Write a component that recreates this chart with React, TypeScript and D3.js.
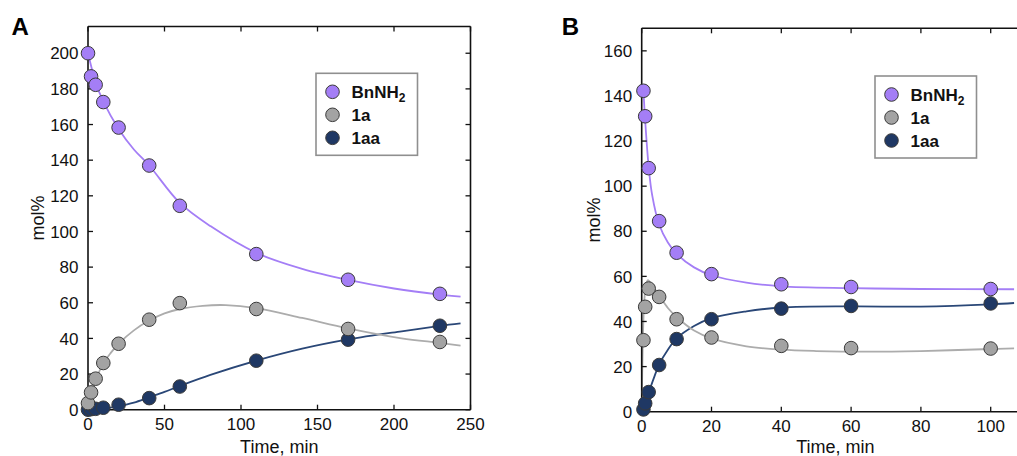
import React from "react";
import * as d3 from "d3";

// ---------- Panel A data ----------
const timeA = [0, 2, 5, 10, 20, 40, 60, 110, 170, 230];
const bnnh2A = [200, 187, 182.3, 172.6, 158.3, 137, 114.4, 87.3, 72.9, 65];
const oneA = [3.7, 9.7, 17.4, 26.2, 37, 50.5, 59.8, 56.5, 45.3, 38];
const oneAaA = [0, 0.3, 0.5, 1.1, 2.8, 6.5, 13, 27.5, 39.3, 47.1];

// fitted curves (knots)
const fitBnA: [number, number][] = [[0, 200], [2, 193], [5, 183.5], [10, 173], [20, 157.5], [30, 146], [40, 137], [60, 116], [80, 103], [110, 88], [140, 79], [170, 72.8], [200, 68], [230, 64.6], [243.5, 63.5]];
const fitOneA: [number, number][] = [[0, 1], [2, 8.5], [5, 16.5], [10, 26], [15, 32], [20, 37], [30, 44.5], [40, 50], [50, 54], [60, 56.5], [75, 58.3], [90, 58.7], [110, 57], [140, 51.5], [170, 45.6], [205, 40], [230, 37.5], [243.5, 36]];
const fitAaA: [number, number][] = [[0, 0], [10, 0.6], [20, 2], [30, 4], [40, 7], [50, 10], [60, 13.3], [80, 19.5], [110, 27.5], [140, 34.2], [170, 39.4], [205, 44], [230, 47], [243.5, 48.4]];

// ---------- Panel B data ----------
const timeB = [0.5, 1, 2, 5, 10, 20, 40, 60, 100];
const bnnh2B = [142.3, 131, 108, 84.5, 70.5, 61, 56.5, 55.3, 54.4];
const oneB = [31.7, 46.5, 54.6, 50.9, 41, 32.9, 29.2, 28.2, 28];
const oneAaB = [1, 3.7, 8.7, 20.7, 32.2, 41, 45.7, 46.9, 48];

const fitBnB: [number, number][] = [[0.5, 142.3], [1, 129], [2, 108.5], [3, 96], [5, 83], [7.5, 75], [10, 70], [15, 64], [20, 60.5], [30, 57.2], [40, 55.6], [60, 54.8], [80, 54.4], [106.7, 54.3]];
const fitOneB: [number, number][] = [[0, 0], [0.3, 30], [0.7, 48], [1.2, 56], [1.8, 58.3], [3, 56], [5, 51.5], [7.5, 46], [10, 42], [15, 36], [20, 32.5], [30, 29], [40, 27.5], [50, 26.9], [65, 26.6], [80, 26.9], [100, 27.8], [106.7, 28.1]];
const fitAaB: [number, number][] = [[0, 0], [0.5, 1.5], [1, 4], [2, 8.5], [3.5, 15], [5, 21], [7.5, 27.5], [10, 32.5], [15, 38], [20, 41.5], [30, 44.5], [40, 46.2], [60, 46.7], [80, 46.6], [100, 47.6], [106.7, 48.2]];

const ticksXA = [0, 50, 100, 150, 200, 250];
const ticksYA = [0, 20, 40, 60, 80, 100, 120, 140, 160, 180, 200];
const ticksXB = [0, 20, 40, 60, 80, 100];
const ticksYB = [0, 20, 40, 60, 80, 100, 120, 140, 160];

const seriesNames = ["BnNH", "1a", "1aa"];
const purple = "#a47ef6";
const gray = "#a3a3a3";
const navy = "#1f3864";
const FONT = "'Liberation Sans', Arial, Helvetica, sans-serif";

type PanelProps = {
  id: string;
  label: string;
  labelX: number;
  xDomain: [number, number];
  xRange: [number, number];
  yDomain: [number, number];
  yRange: [number, number];
  xTicks: number[];
  yTicks: number[];
  times: number[];
  bn: number[];
  one: number[];
  aa: number[];
  fitBn: [number, number][];
  fitOne: [number, number][];
  fitAa: [number, number][];
  legendX: number;
  legendY: number;
  yTitleX: number;
  rightBorder: boolean;
};

function Panel(p: PanelProps) {
  const x = d3.scaleLinear().domain(p.xDomain).range(p.xRange);
  const y = d3.scaleLinear().domain(p.yDomain).range(p.yRange);
  const [x0, x1] = p.xRange;
  const [yb, yt] = p.yRange;
  const line = d3
    .line<[number, number]>()
    .x((d) => x(d[0]))
    .y((d) => y(d[1]))
    .curve(d3.curveCatmullRom.alpha(0.5));
  const tl = 5;
  const r = 6.8;
  const clipId = `clip-${p.id}`;
  const markerStroke = "#3a3a3a";
  return (
    <g>
      <defs>
        <clipPath id={clipId}>
          <rect x={x0} y={yt} width={x1 - x0} height={yb - yt} />
        </clipPath>
      </defs>
      <text x={p.labelX} y={35} fontSize={24} fontWeight="bold" fontFamily={FONT}>
        {p.label}
      </text>
      {/* curves */}
      <g clipPath={`url(#${clipId})`} fill="none" strokeWidth={1.8}>
        <path d={line(p.fitAa) || ""} stroke="#2a4777" />
        <path d={line(p.fitOne) || ""} stroke="#acacac" />
        <path d={line(p.fitBn) || ""} stroke={purple} />
      </g>
      {/* frame */}
      <g stroke="#111" strokeWidth={1.6} fill="none">
        <line x1={x0} x2={x0} y1={yt} y2={yb} />
        <line x1={x0} x2={x1} y1={yb} y2={yb} />
        <line x1={x0} x2={x1} y1={yt} y2={yt} />
        {p.rightBorder && <line x1={x1} x2={x1} y1={yt} y2={yb} />}
      </g>
      {/* ticks */}
      <g stroke="#111" strokeWidth={1.3}>
        {p.xTicks.map((t) => (
          <g key={`xt${t}`}>
            <line x1={x(t)} x2={x(t)} y1={yb} y2={yb - tl} />
            <line x1={x(t)} x2={x(t)} y1={yt} y2={yt + tl} />
          </g>
        ))}
        {p.yTicks.map((t) => (
          <g key={`yt${t}`}>
            <line x1={x0} x2={x0 + tl} y1={y(t)} y2={y(t)} />
            {p.rightBorder && <line x1={x1} x2={x1 - tl} y1={y(t)} y2={y(t)} />}
          </g>
        ))}
      </g>
      {/* tick labels */}
      <g fontFamily={FONT} fontSize={17} fill="#111">
        {p.xTicks.map((t) => (
          <text key={`xl${t}`} x={x(t)} y={yb + 20.5} textAnchor="middle">
            {t}
          </text>
        ))}
        {p.yTicks.map((t) => (
          <text key={`yl${t}`} x={x0 - 9.5} y={y(t)} dy="0.36em" textAnchor="end">
            {t}
          </text>
        ))}
      </g>
      {/* axis titles */}
      <text x={(x0 + Math.min(x1, 1032)) / 2} y={453} textAnchor="middle" fontFamily={FONT} fontSize={18} fill="#111">
        Time, min
      </text>
      <text
        transform={`translate(${p.yTitleX},${(yt + yb) / 2}) rotate(-90)`}
        textAnchor="middle"
        fontFamily={FONT}
        fontSize={18}
        fill="#111"
      >
        mol%
      </text>
      {/* markers */}
      <g stroke={markerStroke} strokeWidth={1}>
        {p.times.map((t, i) => (
          <circle key={`aa${i}`} cx={x(t)} cy={y(p.aa[i])} r={r} fill={navy} />
        ))}
        {p.times.map((t, i) => (
          <circle key={`one${i}`} cx={x(t)} cy={y(p.one[i])} r={r} fill={gray} />
        ))}
        {p.times.map((t, i) => (
          <circle key={`bn${i}`} cx={x(t)} cy={y(p.bn[i])} r={r} fill={purple} />
        ))}
      </g>
      {/* legend */}
      <g>
        <rect x={p.legendX} y={p.legendY} width={101.5} height={82} fill="#fff" stroke="#8f8f8f" strokeWidth={1.6} />
        {[purple, gray, navy].map((c, i) => (
          <g key={`lg${i}`}>
            <circle cx={p.legendX + 16.5} cy={p.legendY + 18.5 + i * 23} r={r} fill={c} stroke={markerStroke} strokeWidth={1} />
            <text x={p.legendX + 35.5} y={p.legendY + 18.5 + i * 23 + 6.3} fontFamily={FONT} fontSize={17} fontWeight="bold" fill="#111">
              {seriesNames[i]}
              {i === 0 && (
                <tspan fontSize={12} dy={4}>
                  2
                </tspan>
              )}
            </text>
          </g>
        ))}
      </g>
    </g>
  );
}

export default function App() {
  return (
    <svg
      width={1017}
      height={456}
      style={{ position: "absolute", left: 0, top: 0, background: "#fff" }}
      xmlns="http://www.w3.org/2000/svg"
    >
      <rect x={0} y={0} width={1017} height={456} fill="#fff" />
      <Panel
        id="A"
        label="A"
        labelX={11.5}
        xDomain={[0, 250]}
        xRange={[88, 470.5]}
        yDomain={[0, 215]}
        yRange={[409.7, 26.5]}
        xTicks={ticksXA}
        yTicks={ticksYA}
        times={timeA}
        bn={bnnh2A}
        one={oneA}
        aa={oneAaA}
        fitBn={fitBnA}
        fitOne={fitOneA}
        fitAa={fitAaA}
        legendX={316}
        legendY={73.3}
        yTitleX={43.5}
        rightBorder={true}
      />
      <Panel
        id="B"
        label="B"
        labelX={561.7}
        xDomain={[0, 111]}
        xRange={[641.7, 641.7 + 3.49 * 111]}
        yDomain={[0, 170]}
        yRange={[411.7, 28.3]}
        xTicks={ticksXB}
        yTicks={ticksYB}
        times={timeB}
        bn={bnnh2B}
        one={oneB}
        aa={oneAaB}
        fitBn={fitBnB}
        fitOne={fitOneB}
        fitAa={fitAaB}
        legendX={875}
        legendY={76}
        yTitleX={600}
        rightBorder={false}
      />
    </svg>
  );
}
